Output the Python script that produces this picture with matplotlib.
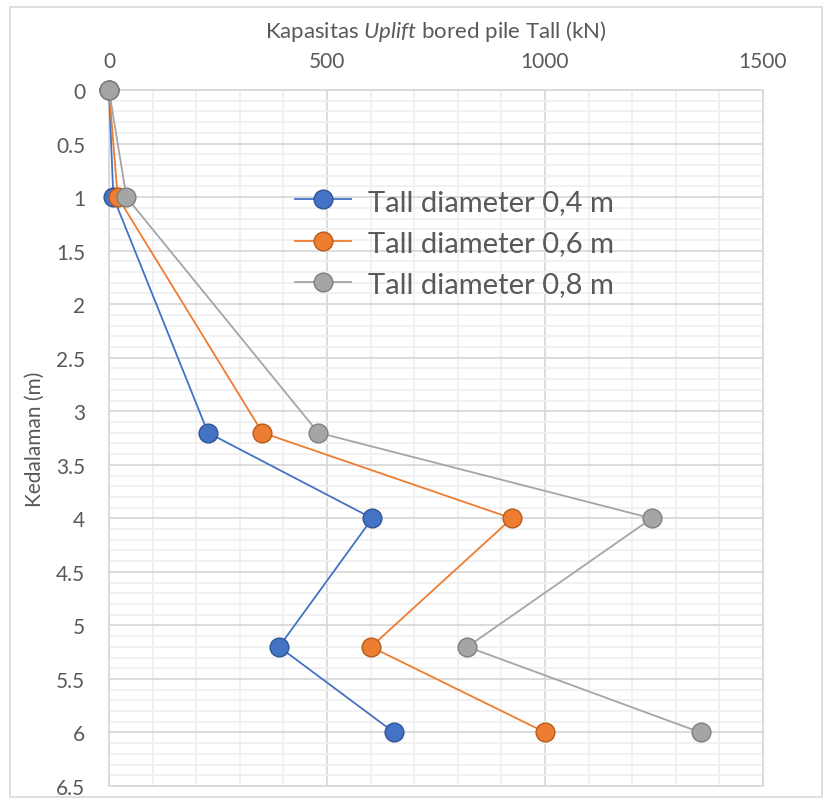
import matplotlib
matplotlib.use("Agg")
import matplotlib.pyplot as plt
from matplotlib.ticker import MultipleLocator, FuncFormatter
from matplotlib.patches import Rectangle

# data
depth = [0, 1, 3.2, 4, 5.2, 6]
cap_04 = [0, 10, 227, 604, 390, 654]
cap_06 = [0, 20, 352, 924, 601, 1001]
cap_08 = [0, 40, 480, 1245, 822, 1357]
labels = ["Tall diameter 0,4 m", "Tall diameter 0,6 m", "Tall diameter 0,8 m"]
colors = ["#4472C4", "#ED7D31", "#A5A5A5"]
edges = ["#2F5597", "#B85A1B", "#7F7F7F"]

plt.rcParams["font.family"] = ["Lato", "DejaVu Sans"]
plt.rcParams["mathtext.fontset"] = "custom"
plt.rcParams["mathtext.rm"] = "Lato"
plt.rcParams["mathtext.it"] = "Lato:italic"
txt = "#595959"

fig = plt.figure(figsize=(8.32, 8.03), dpi=100)
ax = fig.add_axes([0.131, 0.0199, 0.786, 0.8667])

for vals, lab, c, ec in zip([cap_04, cap_06, cap_08], labels, colors, edges):
    ax.plot(vals, depth, color=c, lw=1.3, marker="o", markersize=13.5,
            markerfacecolor=c, markeredgecolor=ec, markeredgewidth=1.0,
            label=lab, zorder=3, clip_on=False)

ax.set_xlim(0, 1500)
ax.set_ylim(6.5, 0)
ax.xaxis.tick_top()
ax.xaxis.set_label_position("top")
ax.xaxis.set_major_locator(MultipleLocator(500))
ax.xaxis.set_minor_locator(MultipleLocator(100))
ax.yaxis.set_major_locator(MultipleLocator(0.5))
ax.yaxis.set_minor_locator(MultipleLocator(0.1))
ax.yaxis.set_major_formatter(FuncFormatter(lambda v, p: f"{v:g}"))
ax.tick_params(which="both", length=0, labelsize=15, colors=txt)
ax.tick_params(axis="y", pad=17)
ax.tick_params(axis="x", pad=14)

ax.grid(which="major", color="#D9D9D9", lw=1.3, zorder=0)
ax.grid(which="minor", color="#F0F0F0", lw=1.3, zorder=0)
ax.set_axisbelow(True)
for s in ax.spines.values():
    s.set_color("#D9D9D9")
    s.set_linewidth(1.3)

ax.set_xlabel(r"Kapasitas $\it{Uplift}$ bored pile Tall (kN)", fontsize=16,
              color=txt, labelpad=10)
ax.set_ylabel("Kedalaman (m)", fontsize=15, color=txt, labelpad=8)

leg = ax.legend(loc="upper left", bbox_to_anchor=(0.245, 0.896), frameon=False,
                fontsize=21, handlelength=1.9, labelspacing=0.52,
                handletextpad=0.6, labelcolor=txt)

fig.patches.append(Rectangle((0.012, 0.006), 0.976, 0.984, transform=fig.transFigure,
                             fill=False, edgecolor="#D9D9D9", lw=1.2))

fig.savefig("out.png", dpi=100)
